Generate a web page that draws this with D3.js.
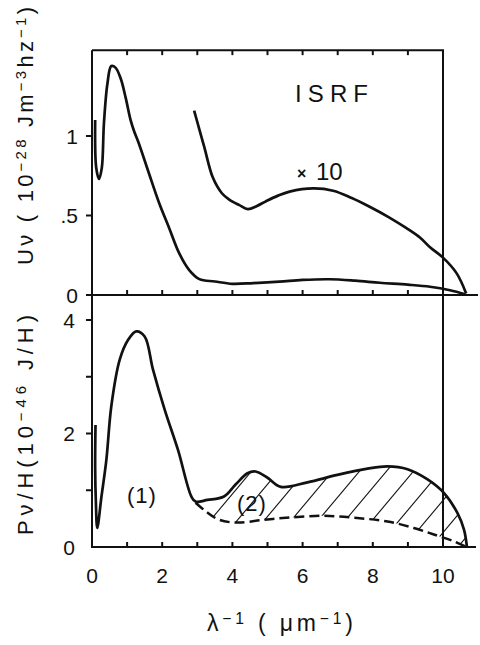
<!DOCTYPE html>
<html><head><meta charset="utf-8">
<script src="https://cdn.jsdelivr.net/npm/d3@7"></script>
<style>
html,body{margin:0;padding:0;background:#fff;}
svg{display:block;}
text{font-family:"Liberation Sans","DejaVu Sans",sans-serif;fill:#111;}
</style></head>
<body>
<svg id="c" width="480" height="645"></svg>
<script>
// ---- data ----
// top panel: ISRF energy density U_nu (1e-28 J m^-3 Hz^-1) vs 1/lambda (um^-1)
const isrfX = [0.09, 0.12, 0.2, 0.28, 0.34, 0.44, 0.55, 0.67, 0.82, 0.96, 1.1, 1.2, 1.34, 1.6, 1.91, 2.2, 2.49, 2.77, 3.06, 3.5, 4.0, 4.6, 5.34, 6.0, 6.77, 7.5, 8.2, 9.0, 9.63, 10.2, 10.63];
const isrfY = [1.10, 0.80, 0.73, 0.80, 1.08, 1.33, 1.44, 1.43, 1.36, 1.24, 1.10, 1.03, 0.95, 0.78, 0.58, 0.42, 0.26, 0.157, 0.10, 0.085, 0.07, 0.075, 0.084, 0.095, 0.099, 0.09, 0.077, 0.065, 0.052, 0.03, 0.005];
// top panel: same curve magnified x10
const isrf10X = [2.91, 3.06, 3.2, 3.44, 3.7, 3.91, 4.2, 4.44, 4.7, 4.96, 5.3, 5.63, 6.3, 6.87, 7.4, 7.91, 8.45, 8.96, 9.35, 9.63, 10.0, 10.39, 10.66];
const isrf10Y = [1.16, 1.04, 0.93, 0.74, 0.64, 0.60, 0.565, 0.54, 0.56, 0.59, 0.625, 0.65, 0.67, 0.656, 0.61, 0.555, 0.49, 0.42, 0.36, 0.30, 0.235, 0.136, 0.01];
// bottom panel: absorbed power per H, P_nu/H (1e-46 J/H), curve (1)
const powX = [0.10, 0.09, 0.11, 0.15, 0.27, 0.41, 0.55, 0.79, 1.03, 1.26, 1.50, 1.74, 2.07, 2.45, 2.83, 2.95, 3.29, 3.76, 4.09, 4.43, 4.66, 5.0, 5.38, 6.14, 6.99, 7.85, 8.42, 8.99, 9.56, 10.03, 10.41, 10.6, 10.68];
const powY = [2.15, 1.40, 0.80, 0.335, 0.89, 1.54, 2.48, 3.30, 3.65, 3.80, 3.71, 3.12, 2.42, 1.71, 0.89, 0.80, 0.83, 0.89, 1.10, 1.30, 1.33, 1.22, 1.06, 1.14, 1.27, 1.38, 1.42, 1.37, 1.19, 0.95, 0.60, 0.30, 0.01];
// bottom panel: dashed curve (2), lower bound of hatched area
const dashX = [2.95, 3.24, 3.62, 4.14, 4.90, 5.66, 6.61, 7.56, 8.42, 9.17, 9.74, 10.31, 10.64];
const dashY = [0.78, 0.63, 0.48, 0.43, 0.48, 0.52, 0.55, 0.51, 0.45, 0.335, 0.22, 0.10, 0.01];
const hatchStartX = 2.93;
// axes
const xTicks = [0,1,2,3,4,5,6,7,8,9,10];
const xTickLabels = ["0","","2","","4","","6","","8","","10"];
const topTicks = [0, 0.5, 1];
const topTickLabels = ["0", ".5", "1"];
const botTicks = [0,1,2,3,4];
const botTickLabels = ["0","","2","","4"];
const topMax = 1.54;

// ---- scales ----
const svg = d3.select("#c");
const x = d3.scaleLinear().domain([0,10]).range([92,443]);
const yT = d3.scaleLinear().domain([0,1]).range([295,136]);
const yB = d3.scaleLinear().domain([0,4]).range([547,320]);
const ink = "#111";

const zip = (a,b)=>a.map((v,i)=>[v,b[i]]);
const lineT = d3.line().x(d=>x(d[0])).y(d=>yT(d[1])).curve(d3.curveCatmullRom.alpha(0.5));
const lineB = d3.line().x(d=>x(d[0])).y(d=>yB(d[1])).curve(d3.curveCatmullRom.alpha(0.5));

// ---- frame / axes ----
const g = svg.append("g").attr("stroke", ink).attr("fill","none");
g.append("line").attr("x1",x(0)).attr("x2",x(0)).attr("y1",yT(topMax)).attr("y2",yB(0)).attr("stroke-width",2);
g.append("line").attr("x1",x(0)).attr("x2",x(10)+1).attr("y1",yT(topMax)).attr("y2",yT(topMax)).attr("stroke-width",2);
g.append("line").attr("x1",x(10)).attr("x2",x(10)).attr("y1",yT(topMax)).attr("y2",yB(0)).attr("stroke-width",2);
g.append("line").attr("x1",x(0)-6).attr("x2",478).attr("y1",yT(0)).attr("y2",yT(0)).attr("stroke-width",2);
g.append("line").attr("x1",x(0)-1).attr("x2",476).attr("y1",yB(0)).attr("y2",yB(0)).attr("stroke-width",2);

const inner = xTicks.filter(t=>t>0 && t<10);
inner.forEach(t=>{
  g.append("line").attr("x1",x(t)).attr("x2",x(t)).attr("y1",yT(topMax)).attr("y2",yT(topMax)+5).attr("stroke-width",2);
  g.append("line").attr("x1",x(t)).attr("x2",x(t)).attr("y1",yT(0)).attr("y2",yT(0)-5).attr("stroke-width",2);
  g.append("line").attr("x1",x(t)).attr("x2",x(t)).attr("y1",yB(0)).attr("y2",yB(0)-5).attr("stroke-width",2);
});
topTicks.filter(t=>t>0).forEach(t=>{
  g.append("line").attr("x1",x(0)-6).attr("x2",x(0)).attr("y1",yT(t)).attr("y2",yT(t)).attr("stroke-width",2);
});
botTicks.filter(t=>t>0).forEach(t=>{
  g.append("line").attr("x1",x(0)-6).attr("x2",x(0)).attr("y1",yB(t)).attr("y2",yB(t)).attr("stroke-width",2);
});

const fs = 21;
topTicks.forEach((t,i)=>{
  svg.append("text").attr("x",78).attr("y",yT(t)).attr("dy","0.36em").attr("text-anchor","end")
    .attr("font-size",fs).text(topTickLabels[i]);
});
botTicks.forEach((t,i)=>{
  if(!botTickLabels[i]) return;
  svg.append("text").attr("x",75).attr("y",yB(t)).attr("dy","0.36em").attr("text-anchor","end")
    .attr("font-size",fs).text(botTickLabels[i]);
});
xTicks.forEach((t,i)=>{
  if(!xTickLabels[i]) return;
  svg.append("text").attr("x",x(t)).attr("y",583).attr("text-anchor","middle")
    .attr("font-size",fs).text(xTickLabels[i]);
});

// ---- hatched region between curve (1) and dashed curve ----
const solidSub = zip(powX,powY).filter(d=>d[0]>=hatchStartX);
const dashRev = zip(dashX,dashY).slice().reverse();
const pA = lineB(solidSub);
const pB = lineB(dashRev).replace(/^M/,"L");
const defs = svg.append("defs");
defs.append("clipPath").attr("id","hclip").append("path").attr("d", pA + pB + "Z");
const hg = svg.append("g").attr("clip-path","url(#hclip)").attr("stroke",ink).attr("stroke-width",1.1);
const ang = 50*Math.PI/180;
for(let xs=150; xs<500; xs+=27){
  hg.append("line").attr("x1",xs).attr("y1",560).attr("x2",xs+110/Math.tan(ang)).attr("y2",450);
}

// ---- curves ----
svg.append("path").attr("d",lineT(zip(isrfX,isrfY))).attr("fill","none").attr("stroke",ink).attr("stroke-width",2.7).attr("stroke-linejoin","round");
svg.append("path").attr("d",lineT(zip(isrf10X,isrf10Y))).attr("fill","none").attr("stroke",ink).attr("stroke-width",2.7).attr("stroke-linejoin","round");
svg.append("path").attr("d",lineB(zip(powX,powY))).attr("fill","none").attr("stroke",ink).attr("stroke-width",2.7).attr("stroke-linejoin","round");
svg.append("path").attr("d",lineB(zip(dashX,dashY))).attr("fill","none").attr("stroke",ink).attr("stroke-width",2.5).attr("stroke-dasharray","10,5");

// ---- annotations ----
svg.append("text").attr("x",295).attr("y",102).attr("font-size",24).attr("textLength",73).attr("lengthAdjust","spacing").text("ISRF");
svg.append("text").attr("x",297).attr("y",179).attr("font-size",16).attr("font-weight","bold").text("×");
svg.append("text").attr("x",316).attr("y",180).attr("font-size",24).text("10");
svg.append("text").attr("x",142).attr("y",503).attr("text-anchor","middle").attr("font-size",22).attr("letter-spacing",1).text("(1)");
svg.append("text").attr("x",252).attr("y",511).attr("text-anchor","middle").attr("font-size",22).attr("letter-spacing",1).text("(2)");

function richText(sel, parts){
  parts.forEach(p=>{
    const t = sel.append("tspan").text(p[0]);
    if(p[1]) t.attr("font-size","68%").attr("baseline-shift","45%");
  });
}
const t1 = svg.append("text").attr("transform","translate(33,136) rotate(-90)").attr("text-anchor","middle")
  .attr("font-size",22).attr("textLength",258).attr("lengthAdjust","spacing");
richText(t1, [["Uν ( 10"],["−28",1],[" Jm"],["−3",1],["hz"],["−1",1],[")"]]);
const t2 = svg.append("text").attr("transform","translate(33,425) rotate(-90)").attr("text-anchor","middle")
  .attr("font-size",22).attr("textLength",220).attr("lengthAdjust","spacing");
richText(t2, [["Pν/H(10"],["−46",1],[" J/H)"]]);
const t3 = svg.append("text").attr("x",280).attr("y",631).attr("text-anchor","middle")
  .attr("font-size",23).attr("textLength",146).attr("lengthAdjust","spacing");
richText(t3, [["λ"],["−1",1],[" ( μm"],["−1",1],[")"]]);
</script>
</body></html>
